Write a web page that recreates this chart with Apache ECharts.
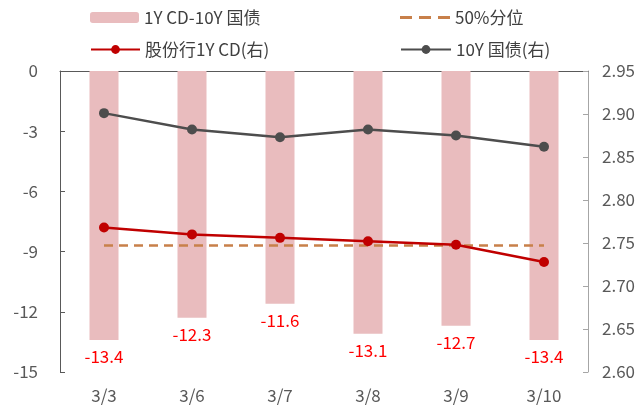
<!DOCTYPE html>
<html>
<head>
<meta charset="utf-8">
<script src="https://cdn.jsdelivr.net/npm/echarts@6/dist/echarts.min.js"></script>
<style>
  html, body { margin: 0; padding: 0; background: #fff; }
  #chart { width: 643px; height: 405px; }
</style>
</head>
<body>
<div id="chart"></div>
<script>
// 日期
var dates = ['3/3', '3/6', '3/7', '3/8', '3/9', '3/10']
// 1Y CD-10Y 国债 利差（左轴）
var spread = [-13.4, -12.3, -11.6, -13.1, -12.7, -13.4]
// 50%分位（左轴）
var median = [-8.7, -8.7, -8.7, -8.7, -8.7, -8.7]
// 股份行1Y CD（右轴）
var cd1y = [2.768, 2.760, 2.756, 2.752, 2.748, 2.728]
// 10Y 国债（右轴）
var gov10y = [2.901, 2.882, 2.873, 2.882, 2.875, 2.862]

var font = '"Noto Sans CJK SC", "Microsoft YaHei", sans-serif'
var fs = 17
var legendText = { fontSize: fs, color: '#404040', fontFamily: font }
var chart = echarts.init(document.getElementById('chart'))

chart.setOption({
  animation: false,
  textStyle: { fontFamily: font },
  legend: [
    {
      data: ['1Y CD-10Y 国债'], left: 90, top: 9, padding: 0,
      itemWidth: 49, itemHeight: 11,
      textStyle: legendText
    },
    {
      data: [{
        name: '50%分位',
        icon: 'path://M0,0h12v3h-12zM19,0h12v3h-12zM38,0h12v3h-12z'
      }],
      left: 400, top: 9, padding: 0,
      itemWidth: 50, itemHeight: 3,
      textStyle: legendText
    },
    {
      data: ['股份行1Y CD(右)'], left: 90, top: 41, padding: 0,
      itemWidth: 49, itemHeight: 11,
      textStyle: legendText
    },
    {
      data: ['10Y 国债(右)'], left: 400, top: 41, padding: 0,
      itemWidth: 50, itemHeight: 11,
      textStyle: legendText
    }
  ],
  grid: { left: 60, right: 55, top: 71, bottom: 33 },
  xAxis: [
    {
      type: 'category',
      data: dates,
      position: 'bottom',
      axisLine: { show: false },
      axisTick: { show: false },
      axisLabel: { color: '#595959', fontSize: fs, margin: 15 }
    },
    {
      type: 'category',
      data: dates,
      position: 'top',
      axisLine: { show: true, onZero: false, lineStyle: { color: '#595959', width: 1 } },
      axisTick: { show: false },
      axisLabel: { show: false }
    }
  ],
  yAxis: [
    {
      type: 'value',
      min: -15, max: 0, interval: 3,
      axisLine: { show: true, lineStyle: { color: '#595959' } },
      axisTick: { show: true, inside: true, length: 5, lineStyle: { color: '#595959' } },
      splitLine: { show: false },
      axisLabel: { color: '#595959', fontSize: fs, margin: 22 }
    },
    {
      type: 'value',
      min: 2.60, max: 2.95, interval: 0.05,
      axisLine: { show: true, lineStyle: { color: '#A6A6A6' } },
      axisTick: { show: true, inside: true, length: 5, lineStyle: { color: '#A6A6A6' } },
      splitLine: { show: false },
      axisLabel: {
        color: '#595959', fontSize: fs, margin: 14,
        formatter: function (v) { return v.toFixed(2) }
      }
    }
  ],
  series: [
    {
      name: '1Y CD-10Y 国债',
      type: 'bar',
      data: spread,
      barWidth: 29,
      itemStyle: { color: '#E9BCBE' },
      label: {
        show: true, position: 'bottom', distance: 8,
        color: '#FF0000', fontSize: fs
      }
    },
    {
      name: '50%分位',
      type: 'line',
      data: median,
      symbol: 'none',
      lineStyle: { color: '#C8804A', width: 2.5, type: [9, 6] },
      itemStyle: { color: '#C8804A' }
    },
    {
      name: '股份行1Y CD(右)',
      type: 'line',
      yAxisIndex: 1,
      data: cd1y,
      symbol: 'circle',
      symbolSize: 10,
      lineStyle: { color: '#C00000', width: 2.5 },
      itemStyle: { color: '#C00000' }
    },
    {
      name: '10Y 国债(右)',
      type: 'line',
      yAxisIndex: 1,
      data: gov10y,
      symbol: 'circle',
      symbolSize: 10,
      lineStyle: { color: '#4D4D4D', width: 2.5 },
      itemStyle: { color: '#4D4D4D' }
    }
  ]
})
</script>
</body>
</html>
